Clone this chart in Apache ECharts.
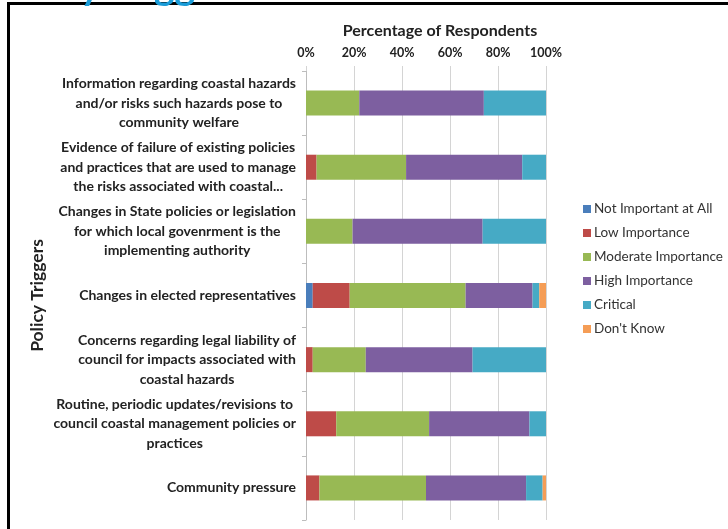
<!DOCTYPE html>
<html>
<head>
<meta charset="utf-8">
<script src="https://cdn.jsdelivr.net/npm/echarts@6/dist/echarts.min.js"></script>
<style>
  html, body { margin: 0; padding: 0; background: #fff; }
  #chart { width: 728px; height: 529px; }
</style>
</head>
<body>
<div id="chart"></div>
<script>
// policy triggers, top to bottom as in the slide
const triggers = [
    'Information regarding coastal hazards\nand/or risks such hazards pose to\ncommunity welfare',
    'Evidence of failure of existing policies\nand practices that are used to manage\nthe risks associated with coastal...',
    'Changes in State policies or legislation\nfor which local govenrment is the\nimplementing authority',
    'Changes in elected representatives',
    'Concerns regarding legal liability of\ncouncil for impacts associated with\ncoastal hazards',
    'Routine, periodic updates/revisions to\ncouncil coastal management policies or\npractices',
    'Community pressure'
];

const seriesNames = ['Not Important at All', 'Low Importance', 'Moderate Importance', 'High Importance', 'Critical', "Don't Know"];

// percentages
const notImportant = [0, 0, 0, 2.8, 0, 0, 0];
const lowImportance = [0, 4.4, 0, 15.4, 2.8, 12.6, 5.6];
const moderateImportance = [22.2, 37.3, 19.4, 48.3, 22.1, 38.7, 44.4];
const highImportance = [51.9, 48.4, 54.2, 27.9, 44.5, 41.8, 41.7];
const critical = [25.9, 9.9, 26.4, 2.8, 30.6, 6.9, 6.9];
const dontKnow = [0, 0, 0, 2.8, 0, 0, 1.4];

const xTicks = [0, 20, 40, 60, 80, 100];

const colors = ['#4A7EBB', '#BE4B48', '#98B954', '#7D5FA0', '#46AAC5', '#F59D56'];
const values = [notImportant, lowImportance, moderateImportance, highImportance, critical, dontKnow];

const myChart = echarts.init(document.getElementById('chart'));

const option = {
    animation: false,
    color: colors,
    textStyle: { fontFamily: 'Lato' },
    grid: {
        left: 306,
        right: 182,
        top: 71,
        bottom: 9
    },
    legend: {
        orient: 'vertical',
        left: 578,
        top: 197,
        icon: 'rect',
        itemWidth: 8,
        itemHeight: 8,
        itemGap: 10,
        textStyle: { fontSize: 13.5, color: '#333', fontFamily: 'Lato', padding: [0, 0, 0, -2] },
        data: seriesNames
    },
    xAxis: {
        type: 'value',
        position: 'top',
        min: xTicks[0],
        max: xTicks[xTicks.length - 1],
        interval: 20,
        name: 'Percentage of Respondents',
        nameLocation: 'middle',
        nameGap: 32,
        nameTextStyle: { fontSize: 16, fontWeight: 'bold', color: '#222', padding: [0, 0, 0, 28] },
        axisLine: { show: false },
        axisTick: { show: true, length: 5, lineStyle: { color: '#d4d4d4' } },
        axisLabel: {
            margin: 12,
            fontSize: 12.5,
            fontWeight: 'bold',
            color: '#222',
            formatter: '{value}%'
        },
        splitLine: { lineStyle: { color: '#d4d4d4' } }
    },
    yAxis: {
        type: 'category',
        inverse: true,
        data: triggers,
        name: 'Policy Triggers',
        nameLocation: 'middle',
        nameRotate: 90,
        nameGap: 260,
        nameTextStyle: { fontSize: 17.5, fontWeight: 'bold', color: '#222' },
        axisLine: { show: true, lineStyle: { color: '#bdbdbd' } },
        axisTick: { show: true, length: 4, lineStyle: { color: '#bdbdbd' } },
        axisLabel: {
            margin: 10,
            align: 'right',
            // centre each wrapped line inside the right-aligned block
            formatter: function (value) {
                return value.split('\n').map(l => '{c|' + l + '}').join('\n');
            },
            rich: {
                c: {
                    align: 'center',
                    fontSize: 14,
                    fontWeight: 'bold',
                    color: '#222',
                    lineHeight: 19.5,
                    fontFamily: 'Lato'
                }
            }
        }
    },
    graphic: [
        {
            // slide title, cut off by the top of the picture
            type: 'text',
            left: -4,
            top: -32,
            z: 10,
            style: { text: 'Policy Triggers', font: 'bold 39px Lato', fill: '#1A9CD8' }
        },
        {
            type: 'rect',
            shape: { x: 7, y: 2, width: 721, height: 3 },
            style: { fill: '#000' },
            z: 5
        },
        {
            type: 'rect',
            shape: { x: 7, y: 2, width: 3, height: 527 },
            style: { fill: '#000' },
            z: 5
        }
    ],
    series: seriesNames.map((name, i) => ({
        name: name,
        type: 'bar',
        stack: 'total',
        barWidth: '39%',
        data: values[i]
    }))
};

myChart.setOption(option);
window.addEventListener('resize', function () {
    myChart.resize();
});
</script>
</body>
</html>
